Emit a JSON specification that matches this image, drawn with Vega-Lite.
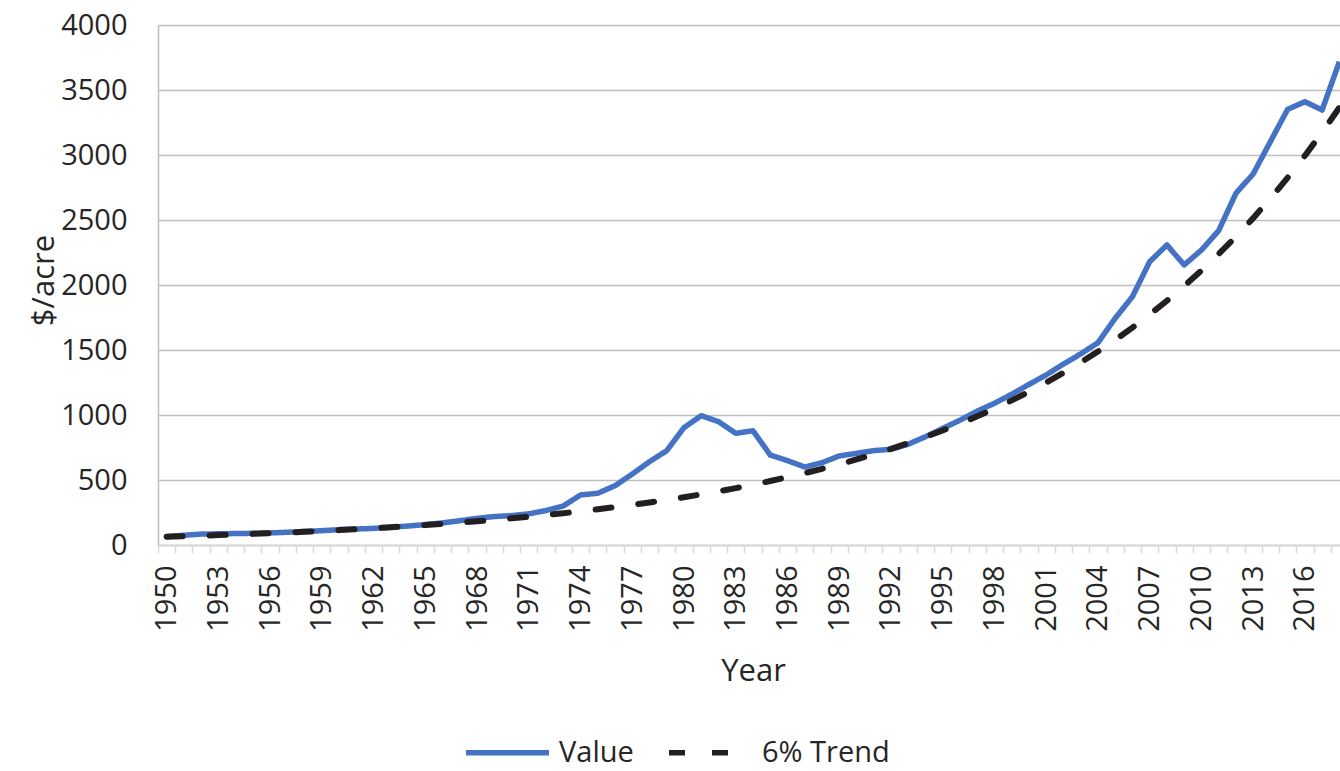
{
  "$schema": "https://vega.github.io/schema/vega-lite/v6.json",
  "autosize": {"type": "none"},
  "padding": {"left": 158, "top": 25, "right": 0, "bottom": 226},
  "width": 1182,
  "height": 520,
  "background": "white",
  "config": {
    "view": {"stroke": null},
    "font": "Open Sans",
    "axis": {"labelFont": "Open Sans", "titleFont": "Open Sans", "labelColor": "#262626", "titleColor": "#262626", "titleFontWeight": "normal"},
    "legend": {"labelFont": "Open Sans", "labelColor": "#262626"}
  },
  "data": {
    "values": [
      {"Year": 1950, "Value": 65, "Trend": 64.0},
      {"Year": 1951, "Value": 75, "Trend": 67.8},
      {"Year": 1952, "Value": 84, "Trend": 71.9},
      {"Year": 1953, "Value": 86, "Trend": 76.2},
      {"Year": 1954, "Value": 88, "Trend": 80.8},
      {"Year": 1955, "Value": 90, "Trend": 85.6},
      {"Year": 1956, "Value": 93, "Trend": 90.8},
      {"Year": 1957, "Value": 98, "Trend": 96.2},
      {"Year": 1958, "Value": 104, "Trend": 102.0},
      {"Year": 1959, "Value": 110, "Trend": 108.1},
      {"Year": 1960, "Value": 118, "Trend": 114.6},
      {"Year": 1961, "Value": 123, "Trend": 121.5},
      {"Year": 1962, "Value": 128, "Trend": 128.8},
      {"Year": 1963, "Value": 136, "Trend": 136.5},
      {"Year": 1964, "Value": 146, "Trend": 144.7},
      {"Year": 1965, "Value": 157, "Trend": 153.4},
      {"Year": 1966, "Value": 170, "Trend": 162.6},
      {"Year": 1967, "Value": 187, "Trend": 172.3},
      {"Year": 1968, "Value": 205, "Trend": 182.7},
      {"Year": 1969, "Value": 219, "Trend": 193.6},
      {"Year": 1970, "Value": 226, "Trend": 205.3},
      {"Year": 1971, "Value": 240, "Trend": 217.6},
      {"Year": 1972, "Value": 265, "Trend": 230.6},
      {"Year": 1973, "Value": 300, "Trend": 244.5},
      {"Year": 1974, "Value": 385, "Trend": 259.1},
      {"Year": 1975, "Value": 398, "Trend": 274.7},
      {"Year": 1976, "Value": 456, "Trend": 291.2},
      {"Year": 1977, "Value": 546, "Trend": 308.6},
      {"Year": 1978, "Value": 641, "Trend": 327.1},
      {"Year": 1979, "Value": 726, "Trend": 346.8},
      {"Year": 1980, "Value": 903, "Trend": 367.6},
      {"Year": 1981, "Value": 995, "Trend": 389.6},
      {"Year": 1982, "Value": 949, "Trend": 413.0},
      {"Year": 1983, "Value": 859, "Trend": 437.8},
      {"Year": 1984, "Value": 879, "Trend": 464.1},
      {"Year": 1985, "Value": 692, "Trend": 491.9},
      {"Year": 1986, "Value": 649, "Trend": 521.4},
      {"Year": 1987, "Value": 600, "Trend": 552.7},
      {"Year": 1988, "Value": 633, "Trend": 585.9},
      {"Year": 1989, "Value": 685, "Trend": 621.0},
      {"Year": 1990, "Value": 705, "Trend": 658.3},
      {"Year": 1991, "Value": 726, "Trend": 697.8},
      {"Year": 1992, "Value": 736, "Trend": 739.7},
      {"Year": 1993, "Value": 775, "Trend": 784.0},
      {"Year": 1994, "Value": 833, "Trend": 831.1},
      {"Year": 1995, "Value": 897, "Trend": 880.9},
      {"Year": 1996, "Value": 960, "Trend": 933.8},
      {"Year": 1997, "Value": 1030, "Trend": 989.8},
      {"Year": 1998, "Value": 1090, "Trend": 1049.2},
      {"Year": 1999, "Value": 1160, "Trend": 1112.2},
      {"Year": 2000, "Value": 1235, "Trend": 1178.9},
      {"Year": 2001, "Value": 1308, "Trend": 1249.6},
      {"Year": 2002, "Value": 1392, "Trend": 1324.6},
      {"Year": 2003, "Value": 1470, "Trend": 1404.1},
      {"Year": 2004, "Value": 1556, "Trend": 1488.3},
      {"Year": 2005, "Value": 1744, "Trend": 1577.6},
      {"Year": 2006, "Value": 1910, "Trend": 1672.3},
      {"Year": 2007, "Value": 2179, "Trend": 1772.6},
      {"Year": 2008, "Value": 2308, "Trend": 1879.0},
      {"Year": 2009, "Value": 2154, "Trend": 1991.7},
      {"Year": 2010, "Value": 2269, "Trend": 2111.2},
      {"Year": 2011, "Value": 2418, "Trend": 2237.9},
      {"Year": 2012, "Value": 2705, "Trend": 2372.2},
      {"Year": 2013, "Value": 2854, "Trend": 2514.5},
      {"Year": 2014, "Value": 3103, "Trend": 2665.4},
      {"Year": 2015, "Value": 3351, "Trend": 2825.3},
      {"Year": 2016, "Value": 3410, "Trend": 2994.8},
      {"Year": 2017, "Value": 3346, "Trend": 3174.5},
      {"Year": 2018, "Value": 3718, "Trend": 3365.0}
    ]
  },
  "transform": [
    {"fold": ["Value", "Trend"], "as": ["key", "amount"]},
    {"lookup": "key", "from": {"data": {"values": [{"key": "Value", "series": "Value"}, {"key": "Trend", "series": "6% Trend"}]}, "key": "key", "fields": ["series"]}}
  ],
  "encoding": {
    "x": {
      "field": "Year",
      "type": "ordinal",
      "bandPosition": 0.5,
      "scale": {"type": "band", "paddingInner": 0, "paddingOuter": 0, "range": [0, 1190]},
      "axis": {
        "title": "Year",
        "titleFontSize": 31,
        "titleBaseline": "alphabetic",
        "titleY": 135,
        "labelAngle": -90,
        "labelAlign": "right",
        "labelBaseline": "middle",
        "labelFontSize": 29,
        "labelPadding": 12,
        "labelOverlap": false,
        "labelBound": false,
        "labelFlush": false,
        "labelExpr": "(datum.value - 1950) % 3 == 0 ? datum.label : ''",
        "tickBand": "extent",
        "tickSize": 8,
        "tickColor": "#d9d9d9",
        "tickWidth": 1.5,
        "domainColor": "#d9d9d9",
        "domainWidth": 2,
        "grid": false
      }
    },
    "y": {
      "field": "amount",
      "type": "quantitative",
      "scale": {"domain": [0, 4000], "nice": false},
      "axis": {
        "title": "$/acre",
        "titleFontSize": 31,
        "titleAngle": -90,
        "titleAlign": "center",
        "titleBaseline": "middle",
        "titleX": -114,
        "titleY": 255,
        "values": [0, 500, 1000, 1500, 2000, 2500, 3000, 3500, 4000],
        "format": "d",
        "labelFontSize": 29,
        "labelPadding": 31,
        "ticks": false,
        "domainColor": "#bfbfbf",
        "domainWidth": 1.5,
        "gridColor": "#bfbfbf",
        "gridWidth": 1.5
      }
    },
    "color": {
      "field": "series",
      "type": "nominal",
      "scale": {"domain": ["Value", "6% Trend"], "range": ["#4472c4", "#231f20"]},
      "legend": {
        "title": null,
        "orient": "none",
        "legendX": 305,
        "legendY": 683,
        "direction": "horizontal",
        "symbolType": "stroke",
        "symbolSize": 6889,
        "symbolStrokeWidth": 5.5,
        "labelFontSize": 29,
        "labelOffset": 7,
        "columnPadding": 24
      }
    },
    "strokeDash": {
      "field": "series",
      "type": "nominal",
      "scale": {"domain": ["Value", "6% Trend"], "range": [[1, 0], [16, 27]]},
      "legend": {
        "title": null,
        "orient": "none",
        "legendX": 305,
        "legendY": 683,
        "direction": "horizontal",
        "symbolType": "stroke",
        "symbolSize": 6889,
        "symbolStrokeWidth": 5.5,
        "labelFontSize": 29,
        "labelOffset": 7,
        "columnPadding": 24
      }
    }
  },
  "layer": [
    {
      "transform": [{"filter": "datum.key == 'Value'"}],
      "mark": {"type": "line", "strokeWidth": 5.5, "strokeJoin": "round"}
    },
    {
      "transform": [{"filter": "datum.key == 'Trend'"}],
      "mark": {"type": "line", "strokeWidth": 6, "strokeCap": "round"}
    }
  ]
}
